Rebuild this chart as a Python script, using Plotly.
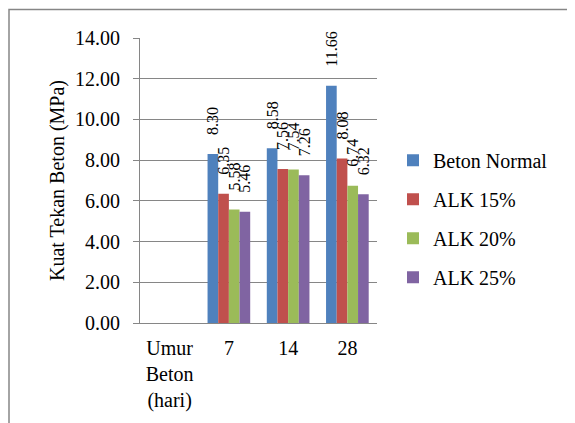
import plotly.graph_objects as go

categories = ["Umur<br>Beton<br>(hari)", "7", "14", "28"]
series_names = ["Beton Normal", "ALK 15%", "ALK 20%", "ALK 25%"]
beton_normal = [None, 8.30, 8.58, 11.66]
alk15 = [None, 6.35, 7.56, 8.08]
alk20 = [None, 5.58, 7.54, 6.74]
alk25 = [None, 5.46, 7.26, 6.32]
colors = ["#4F81BD", "#C0504D", "#9BBB59", "#8064A2"]
y_ticks = [0, 2, 4, 6, 8, 10, 12, 14]

FONT = "Liberation Serif"
PAD = "\u00a0" * 4  # gap between bar top and rotated label

fig = go.Figure()
for i, (name, vals) in enumerate(zip(series_names, [beton_normal, alk15, alk20, alk25])):
    fig.add_trace(go.Bar(
        name=name, x=categories, y=vals, marker_color=colors[i],
        marker_line_width=0,
        text=[("" if v is None else PAD + f"{v:.2f}") for v in vals],
        textposition="outside", textangle=-90,
        textfont=dict(family=FONT, size=16, color="black"),
        cliponaxis=False, constraintext="none",
        legendgroup=name,
    ))

# page renders with an 8px offset; compensate
OFF = 8
W, H = 575, 423
L, T = 140 - OFF, 38 - OFF
B = H - (323.5 - OFF)
R = W - (377 - OFF)
pw, ph = W - L - R, H - T - B

def px_x(x):
    return (x - OFF - L) / pw

def px_y(y):
    return (H - B - (y - OFF)) / ph

fig.update_layout(
    width=W, height=H,
    margin=dict(l=L, r=R, t=T, b=B, pad=0),
    paper_bgcolor="white", plot_bgcolor="white",
    barmode="group", bargap=0.28, bargroupgap=0,
    font=dict(family=FONT, size=20, color="black"),
    showlegend=True,
    legend=dict(x=px_x(393), y=px_y(219), xanchor="left", yanchor="middle",
                font=dict(family=FONT, size=20), traceorder="grouped",
                tracegroupgap=10, itemwidth=30, bgcolor="rgba(0,0,0,0)"),
    shapes=[dict(type="rect", xref="paper", yref="paper",
                 x0=px_x(9), x1=px_x(600), y0=px_y(9.5), y1=px_y(450),
                 line=dict(color="#868686", width=1.5), layer="below")],
)
fig.update_yaxes(
    range=[0, 14], tickvals=y_ticks, ticktext=[f"{v:.2f}" for v in y_ticks],
    showgrid=True, gridcolor="#868686", gridwidth=1,
    showline=True, linecolor="#868686", linewidth=1,
    ticks="outside", ticklen=6, tickcolor="#868686",
    ticklabelstandoff=9,
    title=dict(text="Kuat Tekan Beton (MPa)", font=dict(family=FONT, size=20), standoff=5),
    tickfont=dict(family=FONT, size=20), zeroline=False,
)
fig.update_xaxes(
    showline=True, linecolor="#868686", linewidth=1,
    ticks="", tickfont=dict(family=FONT, size=20),
    ticklabelstandoff=7,
    showgrid=False,
)

fig.write_html("out.html")
